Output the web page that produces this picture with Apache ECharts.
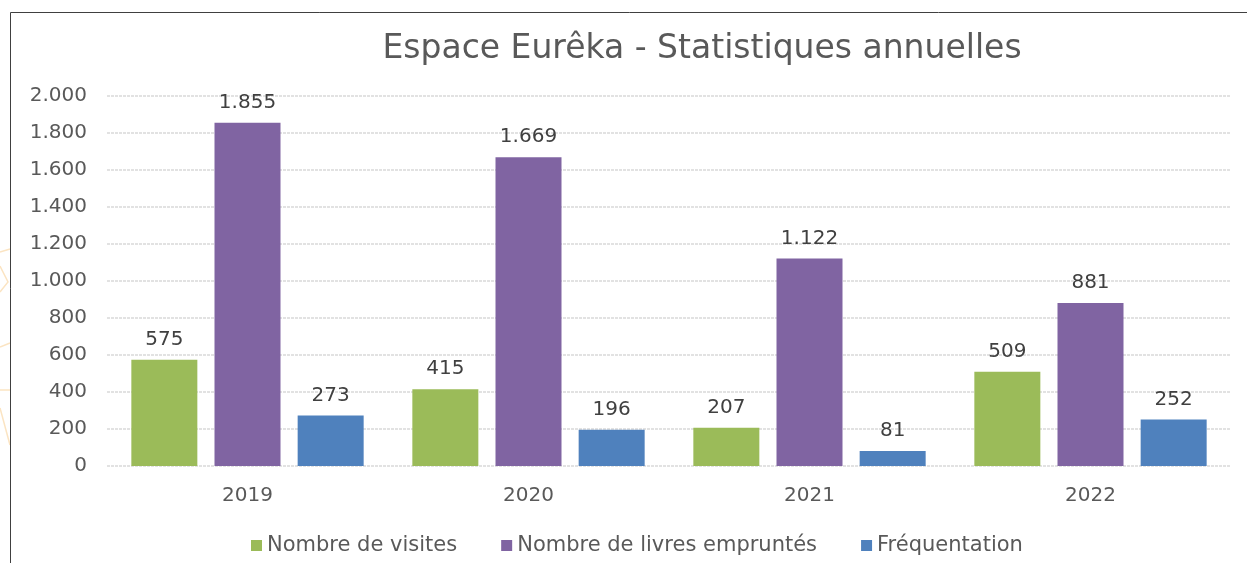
<!DOCTYPE html>
<html>
<head>
<meta charset="utf-8">
<script src="https://cdn.jsdelivr.net/npm/echarts@6/dist/echarts.min.js"></script>
<style>
  html, body { margin: 0; padding: 0; background: #fff; }
  #chart { width: 1247px; height: 563px; }
</style>
</head>
<body>
<div id="chart"></div>
<script>
// données
var years = ['2019', '2020', '2021', '2022'];
var visites = [575, 415, 207, 509];
var livres = [1855, 1669, 1122, 881];
var frequentation = [273, 196, 81, 252];

var font = 'DejaVu Sans';

// séparateur de milliers à la française (point)
function fmt(v) {
  return String(v).replace(/\B(?=(\d{3})+(?!\d))/g, '.');
}

function barSerie(name, data, color) {
  return {
    name: name,
    type: 'bar',
    data: data,
    barWidth: 66,
    barGap: '26%',
    itemStyle: { color: color },
    label: {
      show: true,
      position: 'top',
      distance: 10,
      color: '#404040',
      fontFamily: font,
      fontSize: 20,
      formatter: function (p) { return fmt(p.value); }
    }
  };
}

// traits décoratifs orangés à gauche du cadre (fond de la diapo)
function deco(points) {
  return {
    type: 'polyline',
    shape: { points: points },
    style: { fill: 'none', stroke: '#fbe4c2', lineWidth: 1.5 },
    silent: true
  };
}

var myChart = echarts.init(document.getElementById('chart'));
myChart.setOption({
  animation: false,
  title: {
    text: 'Espace Eurêka - Statistiques annuelles',
    left: 697,
    textAlign: 'center',
    top: 28,
    textStyle: { fontFamily: font, fontSize: 33, fontWeight: 'normal', color: '#595959' }
  },
  graphic: [
    deco([[0, 252], [10, 249]]),
    deco([[0, 266], [8, 282], [0, 292]]),
    deco([[0, 347], [10, 343]]),
    deco([[0, 390], [10, 390]]),
    deco([[0, 408], [10, 445]]),
    {
      type: 'rect',
      shape: { x: 10.5, y: 12.5, width: 1300, height: 600 },
      style: { fill: 'none', stroke: '#404040', lineWidth: 1 },
      silent: true
    }
  ],
  legend: {
    top: 530,
    left: 246,
    itemWidth: 11,
    itemHeight: 11,
    itemGap: 44,
    icon: 'rect',
    textStyle: { fontFamily: font, fontSize: 21, color: '#595959' }
  },
  grid: { left: 107, right: 16, top: 96, bottom: 97, containLabel: false },
  xAxis: {
    type: 'category',
    data: years,
    axisLine: { show: false },
    axisTick: { show: false },
    axisLabel: { fontFamily: font, fontSize: 20, color: '#595959', margin: 20 }
  },
  yAxis: {
    type: 'value',
    min: 0,
    max: 2000,
    interval: 200,
    axisLine: { show: false },
    axisTick: { show: false },
    axisLabel: {
      fontFamily: font, fontSize: 20, color: '#595959', margin: 20,
      formatter: function (v) { return fmt(v); }
    },
    splitLine: { lineStyle: { color: '#d9d9d9', width: 1.5, type: [3, 1] } }
  },
  series: [
    barSerie('Nombre de visites', visites, '#9BBB59'),
    barSerie('Nombre de livres empruntés', livres, '#8064A2'),
    barSerie('Fréquentation', frequentation, '#4F81BD')
  ]
});
</script>
</body>
</html>
